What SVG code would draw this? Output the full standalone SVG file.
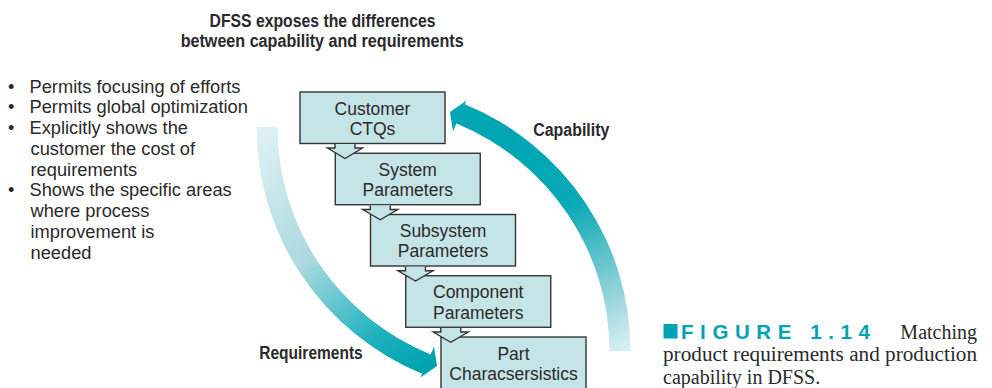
<svg xmlns="http://www.w3.org/2000/svg" width="992" height="388" viewBox="0 0 992 388">
<style>
.box{fill:#c5e4e7;stroke:#333;stroke-width:1.4}
.dn{fill:#c5e4e7;stroke:#333;stroke-width:1.4;stroke-linejoin:miter}
.bt{font-family:"Liberation Sans",Arial,sans-serif;font-size:17.5px;fill:#2a2a2a;text-anchor:middle}
.li{font-family:"Liberation Sans",Arial,sans-serif;font-size:18.3px;fill:#2a2a2a}
.hd{font-family:"Liberation Sans",Arial,sans-serif;font-size:18px;font-weight:bold;fill:#2a2a2a}
.cap{font-family:"Liberation Serif","Times New Roman",serif;font-size:20px;fill:#2a2a2a}
.fig{font-family:"Liberation Sans",Arial,sans-serif;font-size:20.5px;font-weight:bold;fill:#00a3b3}
</style>
<defs>
<linearGradient id="gReq" gradientUnits="userSpaceOnUse" x1="262" y1="140" x2="432" y2="362">
<stop offset="0" stop-color="#dcf0f2"/>
<stop offset="0.45" stop-color="#a9d9df"/>
<stop offset="0.8" stop-color="#1fb2bf"/>
<stop offset="1" stop-color="#00a2af"/>
</linearGradient>
<linearGradient id="gCap" gradientUnits="userSpaceOnUse" x1="520" y1="140" x2="622" y2="350">
<stop offset="0" stop-color="#00a6b3"/>
<stop offset="0.35" stop-color="#0aaab7"/>
<stop offset="0.7" stop-color="#80cbd4"/>
<stop offset="1" stop-color="#d8eff2"/>
</linearGradient>
</defs>

<g id="title">
<text class="hd" x="209.5" y="26.7" textLength="226" lengthAdjust="spacingAndGlyphs">DFSS exposes the differences</text>
<text class="hd" x="180.7" y="47" textLength="283" lengthAdjust="spacingAndGlyphs">between capability and requirements</text>
</g>

<g id="bullets">
<text class="li" x="8" y="92.5">•</text>
<text class="li" x="29.5" y="92.5">Permits focusing of efforts</text>
<text class="li" x="8" y="113.3">•</text>
<text class="li" x="29.5" y="113.3">Permits global optimization</text>
<text class="li" x="8" y="134">•</text>
<text class="li" x="29.5" y="134">Explicitly shows the</text>
<text class="li" x="30.5" y="154.8">customer the cost of</text>
<text class="li" x="30.5" y="175.6">requirements</text>
<text class="li" x="8" y="196.4">•</text>
<text class="li" x="29.5" y="196.4">Shows the specific areas</text>
<text class="li" x="30.5" y="217.2">where process</text>
<text class="li" x="30.5" y="238">improvement is</text>
<text class="li" x="30.5" y="258.8">needed</text>
</g>

<g id="connectors">
<path id="requirements-arrow" fill="url(#gReq)" d="M 277.5,127 L 256.5,127 A 266.5 266.5 0 0 0 422.2,373.7 L 420.5,377.5 L 437,366 L 434,346.5 L 430.6,354.4 A 245.5 245.5 0 0 1 277.5,127 Z"/>
<path id="capability-arrow" fill="url(#gCap)" d="M 609.5,351 L 630.5,351 A 266.5 266.5 0 0 0 464.8,104.3 L 466.5,100.5 L 450,112 L 453,131.5 L 456.4,123.6 A 245.5 245.5 0 0 1 609.5,351 Z"/>
</g>

<g id="labels">
<text class="hd" x="533.3" y="136" textLength="76" lengthAdjust="spacingAndGlyphs">Capability</text>
<text class="hd" x="259.3" y="359" textLength="103.4" lengthAdjust="spacingAndGlyphs">Requirements</text>
</g>

<g id="customer-ctqs">
<rect class="box" x="300" y="92" width="145" height="51.5"/>
<text class="bt" x="372.5" y="114.5">Customer</text>
<text class="bt" x="372.5" y="135">CTQs</text>
</g>
<g id="system-parameters">
<rect class="box" x="335.25" y="153.25" width="145" height="51.5"/>
<text class="bt" x="407.75" y="175.5">System</text>
<text class="bt" x="407.75" y="196">Parameters</text>
</g>
<g id="arrow-1">
<path class="dn" d="M 335,144 L 335,148 L 327.5,148 L 345,158.5 L 362.5,148 L 355,148 L 355,144"/>
</g>
<g id="subsystem-parameters">
<rect class="box" x="370.5" y="214.5" width="145" height="51.5"/>
<text class="bt" x="443" y="236.8">Subsystem</text>
<text class="bt" x="443" y="257.3">Parameters</text>
</g>
<g id="arrow-2">
<path class="dn" d="M 370.25,205.5 L 370.25,209.5 L 362.75,209.5 L 380.25,219.75 L 397.75,209.5 L 390.25,209.5 L 390.25,205.5"/>
</g>
<g id="component-parameters">
<rect class="box" x="405.75" y="275.75" width="145" height="51.5"/>
<text class="bt" x="478.25" y="298">Component</text>
<text class="bt" x="478.25" y="318.5">Parameters</text>
</g>
<g id="arrow-3">
<path class="dn" d="M 405.5,266.75 L 405.5,270.75 L 398,270.75 L 415.5,281 L 433,270.75 L 425.5,270.75 L 425.5,266.75"/>
</g>
<g id="part-characteristics">
<rect class="box" x="441" y="337" width="145" height="53"/>
<text class="bt" x="513.5" y="359.5">Part</text>
<text class="bt" x="513.5" y="380">Characsersistics</text>
</g>
<g id="arrow-4">
<path class="dn" d="M 440.75,328 L 440.75,332 L 433.25,332 L 450.75,342.25 L 468.25,332 L 460.75,332 L 460.75,328"/>
</g>

<g id="caption">
<rect x="663.5" y="324" width="14" height="14.5" fill="#00a3b3"/>
<text class="fig" x="681" y="338.5" textLength="189" lengthAdjust="spacing">FIGURE 1.14</text>
<text class="cap" x="977" y="338.5" text-anchor="end">Matching</text>
<text class="cap" x="663" y="361" textLength="314" lengthAdjust="spacingAndGlyphs">product requirements and production</text>
<text class="cap" x="663" y="383.5">capability in DFSS.</text>
</g>
</svg>
